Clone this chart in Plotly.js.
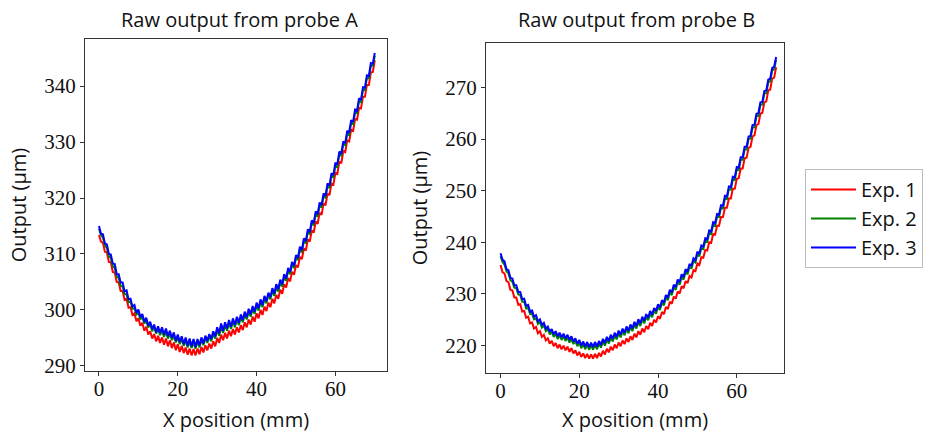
<!DOCTYPE html>
<html>
<head>
<meta charset="utf-8">
<script src="https://cdn.plot.ly/plotly-3.0.1.min.js"></script>
<style>html,body{margin:0;padding:0;background:#fff;}#chart{width:930px;height:433px;}</style>
</head>
<body>
<div id="chart"></div>
<script>
// X positions (mm)
const xPos = [0,0.5,1,1.5,2,2.5,3,3.5,4,4.5,5,5.5,6,6.5,7,7.5,8,8.5,9,9.5,10,10.5,11,11.5,12,12.5,13,13.5,14,14.5,15,15.5,16,16.5,17,17.5,18,18.5,19,19.5,20,20.5,21,21.5,22,22.5,23,23.5,24,24.5,25,25.5,26,26.5,27,27.5,28,28.5,29,29.5,30,30.5,31,31.5,32,32.5,33,33.5,34,34.5,35,35.5,36,36.5,37,37.5,38,38.5,39,39.5,40,40.5,41,41.5,42,42.5,43,43.5,44,44.5,45,45.5,46,46.5,47,47.5,48,48.5,49,49.5,50,50.5,51,51.5,52,52.5,53,53.5,54,54.5,55,55.5,56,56.5,57,57.5,58,58.5,59,59.5,60,60.5,61,61.5,62,62.5,63,63.5,64,64.5,65,65.5,66,66.5,67,67.5,68,68.5,69,69.5,70];

// Probe A
const probeA_exp1 = [313.4,312.2,312.0,310.4,310.3,308.6,308.5,306.8,306.7,305.0,304.9,303.4,303.4,301.8,302.0,300.4,300.5,299.1,299.4,298.0,298.5,297.2,297.7,296.3,297.0,295.6,296.2,294.9,295.7,294.4,295.4,294.1,295.1,293.8,294.9,293.5,294.6,293.2,294.2,292.8,293.9,292.5,293.6,292.3,293.3,292.0,293.1,291.9,293.0,291.9,293.1,292.1,293.4,292.4,293.7,292.8,294.0,293.1,294.4,293.5,295.0,294.1,295.6,294.6,295.9,294.9,296.3,295.3,296.6,295.6,296.9,296.0,297.3,296.4,297.8,296.9,298.3,297.4,298.8,297.9,299.4,298.5,300.0,299.1,300.6,299.8,301.3,300.5,302.0,301.2,302.7,302.0,303.6,302.9,304.6,304.0,305.7,305.1,306.8,306.3,308.0,307.6,309.5,309.1,311.0,310.6,312.6,312.2,314.2,313.8,315.8,315.4,317.4,317.0,319.0,318.7,320.8,320.5,322.6,322.4,324.5,324.3,326.5,326.2,328.4,328.2,330.3,330.1,332.2,332.0,334.1,334.0,336.1,336.0,338.1,338.1,340.2,340.2,342.4,342.5,344.6];
const probeA_exp2 = [314.5,313.4,312.9,311.5,311.1,309.6,309.3,307.8,307.5,306.0,305.7,304.3,304.2,302.8,302.8,301.4,301.5,300.2,300.3,299.2,299.5,298.3,298.8,297.6,298.0,296.9,297.4,296.2,296.9,295.8,296.6,295.5,296.3,295.2,296.1,294.9,295.8,294.6,295.4,294.2,295.1,293.9,294.8,293.6,294.6,293.3,294.4,293.2,294.3,293.1,294.4,293.3,294.7,293.7,295.0,294.1,295.3,294.4,295.8,294.9,296.4,295.4,297.0,295.9,297.3,296.3,297.7,296.6,298.0,296.9,298.3,297.3,298.7,297.8,299.2,298.3,299.7,298.8,300.2,299.3,300.8,299.9,301.4,300.5,302.0,301.2,302.7,301.9,303.4,302.5,304.1,303.3,304.9,304.2,305.9,305.2,307.0,306.4,308.1,307.5,309.3,308.9,310.8,310.3,312.3,311.9,313.9,313.5,315.5,315.1,317.1,316.7,318.7,318.3,320.3,320.0,322.1,321.8,323.9,323.7,325.8,325.6,327.8,327.5,329.6,329.4,331.5,331.3,333.4,333.2,335.3,335.2,337.3,337.1,339.3,339.3,341.4,341.4,343.6,343.6,345.4];
const probeA_exp3 = [315.0,313.6,313.5,311.9,311.7,310.0,309.9,308.3,308.2,306.4,306.4,304.9,304.9,303.3,303.5,301.9,302.0,300.6,300.9,299.5,300.1,298.7,299.3,297.9,298.6,297.2,297.9,296.6,297.4,296.0,297.1,295.9,296.9,295.6,296.7,295.3,296.3,295.0,296.0,294.5,295.6,294.3,295.3,293.9,295.1,293.6,294.9,293.5,294.8,293.4,294.8,293.7,295.1,294.0,295.4,294.5,295.7,294.8,296.2,295.3,296.9,295.8,297.6,296.3,297.8,296.7,298.2,297.0,298.5,297.3,298.8,297.7,299.2,298.2,299.7,298.7,300.2,299.2,300.7,299.7,301.3,300.3,301.9,300.9,302.5,301.6,303.1,302.3,303.9,302.9,304.6,303.7,305.4,304.6,306.4,305.6,307.5,306.8,308.6,307.9,309.8,309.3,311.3,310.7,312.8,312.3,314.4,313.9,316.0,315.5,317.6,317.1,319.2,318.7,320.8,320.4,322.6,322.2,324.4,324.1,326.3,326.0,328.3,327.9,330.1,329.8,332.0,331.7,333.9,333.6,335.8,335.6,337.8,337.5,339.8,339.7,341.9,341.8,344.1,344.0,345.9];

// Probe B
const probeB_exp1 = [235.6,234.2,234.0,232.5,232.3,230.8,230.7,229.3,229.3,227.9,228.0,226.6,226.7,225.4,225.6,224.3,224.5,223.3,223.6,222.4,222.8,221.7,222.1,221.0,221.4,220.4,220.9,219.9,220.5,219.5,220.2,219.3,220.0,219.1,219.8,218.8,219.5,218.5,219.1,218.1,218.8,217.8,218.5,217.6,218.4,217.5,218.3,217.5,218.4,217.6,218.6,217.9,219.0,218.3,219.4,218.7,219.8,219.1,220.2,219.5,220.6,219.9,221.0,220.3,221.4,220.7,221.8,221.1,222.3,221.6,222.8,222.1,223.3,222.6,223.8,223.2,224.4,223.8,225.0,224.5,225.7,225.2,226.5,226.1,227.5,227.1,228.5,228.1,229.5,229.1,230.5,230.1,231.5,231.1,232.5,232.1,233.5,233.2,234.6,234.4,235.9,235.6,237.1,237.0,238.5,238.4,240.0,239.9,241.6,241.5,243.2,243.2,244.9,244.9,246.7,246.7,248.5,248.5,250.4,250.4,252.3,252.4,254.3,254.3,256.3,256.4,258.3,258.5,260.5,260.7,262.7,262.9,264.9,265.1,267.1,267.3,269.4,269.6,271.7,271.9,273.9];
const probeB_exp2 = [237.3,236.2,235.7,234.4,234.0,232.7,232.4,231.2,231.1,229.9,229.8,228.5,228.5,227.2,227.3,226.1,226.2,225.1,225.3,224.2,224.6,223.5,223.9,222.8,223.2,222.2,222.7,221.7,222.3,221.3,222.0,221.1,221.8,220.9,221.6,220.6,221.3,220.3,220.9,219.9,220.6,219.5,220.3,219.3,220.2,219.2,220.1,219.2,220.2,219.3,220.4,219.6,220.8,220.0,221.2,220.4,221.6,220.8,222.0,221.2,222.4,221.6,222.8,222.0,223.2,222.4,223.6,222.8,224.1,223.3,224.6,223.8,225.1,224.3,225.6,224.9,226.2,225.5,226.8,226.2,227.5,226.9,228.3,227.8,229.3,228.8,230.3,229.8,231.3,230.8,232.3,231.8,233.3,232.8,234.3,233.8,235.3,234.9,236.4,236.1,237.7,237.3,238.9,238.7,240.3,240.1,241.8,241.6,243.4,243.2,245.0,244.9,246.7,246.6,248.5,248.4,250.3,250.2,252.2,252.1,254.1,254.0,256.0,256.0,258.0,258.0,260.0,260.1,262.2,262.3,264.4,264.5,266.6,266.7,268.8,268.9,271.0,271.2,273.3,273.5,275.4];
const probeB_exp3 = [237.9,236.6,236.3,234.8,234.6,233.1,233.0,231.7,231.7,230.4,230.4,229.0,229.1,227.7,227.9,226.6,226.8,225.6,225.9,224.7,225.1,224.0,224.4,223.3,223.7,222.7,223.2,222.2,222.8,221.8,222.5,221.6,222.3,221.4,222.1,221.1,221.8,220.8,221.4,220.4,221.1,220.0,220.8,219.8,220.7,219.7,220.6,219.7,220.7,219.8,220.9,220.1,221.3,220.5,221.7,220.9,222.1,221.3,222.5,221.7,222.9,222.1,223.3,222.5,223.7,222.9,224.1,223.3,224.6,223.8,225.1,224.3,225.6,224.8,226.1,225.4,226.7,226.0,227.3,226.7,228.0,227.4,228.8,228.3,229.8,229.3,230.8,230.3,231.8,231.3,232.8,232.3,233.8,233.3,234.8,234.3,235.8,235.4,236.9,236.6,238.2,237.8,239.4,239.2,240.8,240.6,242.3,242.1,243.9,243.7,245.5,245.4,247.2,247.1,249.0,248.9,250.8,250.7,252.7,252.6,254.6,254.5,256.5,256.5,258.5,258.5,260.5,260.6,262.7,262.8,264.9,265.0,267.1,267.2,269.3,269.4,271.5,271.7,273.8,274.0,275.9];

const seriesNames = ["Exp. 1", "Exp. 2", "Exp. 3"];
const seriesColors = ["#ff0000", "#008000", "#0000ff"];
const titles = ["Raw output from probe A", "Raw output from probe B"];
const xTickVals = [0, 20, 40, 60];
const yTickValsA = [290, 300, 310, 320, 330, 340];
const yTickValsB = [220, 230, 240, 250, 260, 270];

const A = [probeA_exp1, probeA_exp2, probeA_exp3];
const B = [probeB_exp1, probeB_exp2, probeB_exp3];

const traces = [];
A.forEach((ys, i) => traces.push({
  x: xPos, y: ys, type: 'scatter', mode: 'lines', name: seriesNames[i],
  line: {color: seriesColors[i], width: 2}, xaxis: 'x', yaxis: 'y', legendgroup: 'g' + i
}));
B.forEach((ys, i) => traces.push({
  x: xPos, y: ys, type: 'scatter', mode: 'lines', name: seriesNames[i], showlegend: false,
  line: {color: seriesColors[i], width: 2}, xaxis: 'x2', yaxis: 'y2', legendgroup: 'g' + i
}));

const W = 930, H = 433;
const sans = 'Open Sans, Noto Sans, sans-serif';
const serif = 'Liberation Serif, Times New Roman, serif';
const axBase = {
  showgrid: false, zeroline: false, showline: true, mirror: true,
  linecolor: '#333', linewidth: 1, ticks: 'outside', ticklen: 4, tickcolor: '#333',
  tickfont: {family: serif, size: 21, color: '#111'}
};
const xTitle = {text: 'X position (mm)', font: {family: sans, size: 20, color: '#111'}, standoff: 12};
const yTitle = {text: 'Output (µm)', font: {family: sans, size: 20, color: '#111'}, standoff: 12};

const layout = {
  width: W, height: H,
  margin: {l: 0, r: 0, t: 0, b: 0},
  paper_bgcolor: '#fff', plot_bgcolor: '#fff',
  showlegend: true,
  xaxis: Object.assign({}, axBase, {domain: [85 / W, 387 / W], range: [-3.55, 73.1], tickvals: xTickVals, title: xTitle, anchor: 'y', ticklabelstandoff: -5}),
  yaxis: Object.assign({}, axBase, {domain: [(H - 371) / H, (H - 39) / H], range: [289.1, 348.4], tickvals: yTickValsA, title: yTitle, anchor: 'x'}),
  xaxis2: Object.assign({}, axBase, {domain: [486 / W, 784 / W], range: [-3.7, 72.0], tickvals: xTickVals, title: xTitle, anchor: 'y2', ticklabelstandoff: -5}),
  yaxis2: Object.assign({}, axBase, {domain: [(H - 373) / H, (H - 43) / H], range: [214.7, 278.6], tickvals: yTickValsB, title: yTitle, anchor: 'x2'}),
  legend: {
    x: 805 / W, y: (H - 169) / H, xanchor: 'left', yanchor: 'top',
    bgcolor: '#fff', bordercolor: '#bbb', borderwidth: 1, itemwidth: 45,
    font: {family: sans, size: 20, color: '#111'}, tracegroupgap: 0
  },
  annotations: [
    {text: titles[0], x: 239 / W, y: (H - 19) / H, xref: 'paper', yref: 'paper', showarrow: false, xanchor: 'center', yanchor: 'middle', font: {family: sans, size: 20, color: '#111'}},
    {text: titles[1], x: 636 / W, y: (H - 19) / H, xref: 'paper', yref: 'paper', showarrow: false, xanchor: 'center', yanchor: 'middle', font: {family: sans, size: 20, color: '#111'}}
  ]
};

Plotly.newPlot('chart', traces, layout, {displayModeBar: false, staticPlot: true});
</script>
</body>
</html>
